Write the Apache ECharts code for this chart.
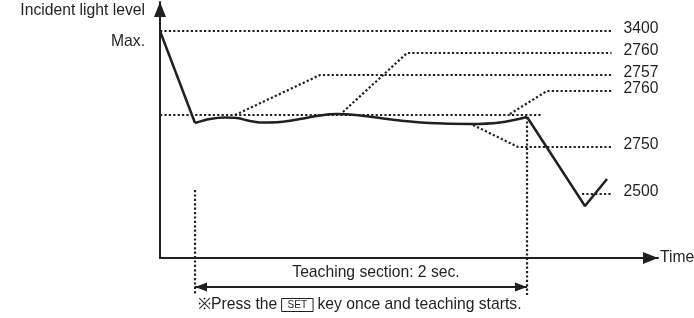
<!DOCTYPE html>
<html><head><meta charset="utf-8">
<script src="https://cdn.jsdelivr.net/npm/echarts@6/dist/echarts.min.js"></script>
<style>html,body{margin:0;padding:0;background:#fff}#c{width:694px;height:318px}</style>
</head><body><div id="c"></div>
<script>
// ---- data (time in s, level in arbitrary schematic units) ----
const dropTime = [0, 0.211];
const dropLevel = [227, 135];
const waveTime = [0.211, 0.301, 0.392, 0.464, 0.542, 0.614, 0.723, 0.843, 0.964, 1.066, 1.175, 1.325, 1.446, 1.627, 1.867, 2.048, 2.211];
const waveLevel = [135, 139, 140.5, 140, 137, 135.5, 136, 139, 142.5, 144, 143, 140, 137.5, 135, 134, 135.5, 141];
const fallTime = [2.211, 2.560, 2.693];
const fallLevel = [141, 52, 79];

const labelTexts = ['3400', '2760', '2757', '2760', '2750', '2500'];
const leaderTime = [[0, 2.72], [1.102, 1.488, 2.72], [0.452, 0.964, 2.72], [2.108, 2.331, 2.72], [1.886, 2.157, 2.72], [2.542, 2.72]];
const leaderLevel = [[227, 227], [146, 205, 205], [143, 183, 183], [144, 167, 167], [133, 111, 111], [64, 64]];

const refTime = [0, 2.301];
const refLevel = [143, 143];
const teachStart = 0.211, teachEnd = 2.211;
const startGuideLevel = [68, -37];
const endGuideLevel = [141, -37];
const arrowLevel = -29;

const yAxisTitle = 'Incident light level';
const maxLabel = 'Max.';
const xAxisTitle = 'Time';
const teachText = 'Teaching section: 2 sec.';

// ---- chart ----
const INK = '#231f20';
const FONT = '"Liberation Sans", Arial, Helvetica, sans-serif';
const FS = 15.7;
const pts = (t, l) => t.map((v, i) => [v, l[i]]);
const dotted = { color: INK, width: 2.2, type: [2.2, 2.2], cap: 'butt' };
const solid = { color: INK, width: 2.5 };

const series = [];
series.push({ type: 'line', data: pts(dropTime, dropLevel), symbol: 'none', lineStyle: solid, z: 5, clip: false });
series.push({ type: 'line', data: pts(waveTime, waveLevel), symbol: 'none', smooth: 0.35, lineStyle: solid, z: 5, clip: false });
series.push({ type: 'line', data: pts(fallTime, fallLevel), symbol: 'none', lineStyle: solid, z: 5, clip: false });

labelTexts.forEach((txt, i) => {
  series.push({
    type: 'line', data: pts(leaderTime[i], leaderLevel[i]), symbol: 'none', clip: false, z: 2,
    lineStyle: dotted,
    endLabel: { show: true, formatter: txt, distance: 12, offset: [0, -2], color: INK, fontSize: FS, fontFamily: FONT }
  });
});
series.push({ type: 'line', data: pts(refTime, refLevel), symbol: 'none', clip: false, z: 2, lineStyle: dotted });
series.push({ type: 'line', data: pts([teachStart, teachStart], startGuideLevel), symbol: 'none', clip: false, z: 2, lineStyle: dotted });
series.push({ type: 'line', data: pts([teachEnd, teachEnd], endGuideLevel), symbol: 'none', clip: false, z: 2, lineStyle: dotted });
// double-headed arrow for the teaching section
series.push({
  type: 'line', clip: false, z: 3, showSymbol: true, showAllSymbol: true,
  lineStyle: { color: INK, width: 2 },
  itemStyle: { color: INK, borderWidth: 0 },
  symbol: 'triangle', symbolSize: [9, 12],
  data: [
    { value: [teachStart, arrowLevel], symbolRotate: 90, symbolOffset: [6, 0] },
    { value: [teachEnd, arrowLevel], symbolRotate: -90, symbolOffset: [-6, 0] }
  ]
});

const chart = echarts.init(document.getElementById('c'), null, { renderer: 'canvas' });
chart.setOption({
  animation: false,
  backgroundColor: '#fff',
  grid: { left: 160, right: 36, top: 2, bottom: 60, containLabel: false, outerBoundsMode: 'none' },
  xAxis: {
    type: 'value', min: 0, max: 3,
    axisLine: { show: true, lineStyle: { color: INK, width: 2 }, symbol: ['none', 'triangle'], symbolSize: [12, 15], symbolOffset: [0, -7.5] },
    axisTick: { show: false }, axisLabel: { show: false }, splitLine: { show: false },
    name: xAxisTitle, nameLocation: 'end', nameGap: 2,
    nameTextStyle: { color: INK, fontSize: FS, fontFamily: FONT, align: 'left', verticalAlign: 'middle' }
  },
  yAxis: {
    type: 'value', min: 0, max: 256,
    axisLine: { show: true, lineStyle: { color: INK, width: 2 }, symbol: ['none', 'triangle'], symbolSize: [12, 15], symbolOffset: [0, -7.5] },
    axisTick: { show: false }, axisLabel: { show: false }, splitLine: { show: false }
  },
  graphic: [
    { type: 'text', x: 145, y: 11, style: { text: yAxisTitle, fill: INK, font: FS + 'px ' + FONT, align: 'right', verticalAlign: 'middle' } },
    { type: 'text', x: 145, y: 42, style: { text: maxLabel, fill: INK, font: FS + 'px ' + FONT, align: 'right', verticalAlign: 'middle' } },
    { type: 'text', x: 376, y: 273, style: { text: teachText, fill: INK, font: FS + 'px ' + FONT, align: 'center', verticalAlign: 'middle' } },
    { type: 'text', x: 198, y: 305, style: {
        text: '{a|※Press the }{b|SET}{a| key once and teaching starts.}',
        align: 'left', verticalAlign: 'middle',
        rich: {
          a: { fill: INK, fontSize: FS, fontFamily: FONT },
          b: { fill: INK, fontSize: 10, fontFamily: FONT, borderColor: INK, borderWidth: 1, padding: [2, 6, 1, 6] }
        }
    } }
  ],
  series: series
});
</script></body></html>
